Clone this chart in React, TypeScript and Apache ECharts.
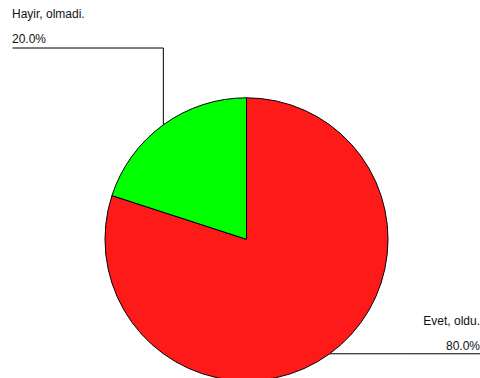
import React, { useEffect, useRef } from "react";
import * as echarts from "echarts";

const categories = ["Evet, oldu.", "Hayir, olmadi."];
const values = [80, 20];
const colors = ["#ff1a1a", "#00ff00"];

const CX = 246.5;
const CY = 239.3;
const R = 141.5;

export default function App() {
  const ref = useRef<HTMLDivElement>(null);
  useEffect(() => {
    if (!ref.current) return;
    const chart = echarts.init(ref.current, null, { renderer: "svg" });
    const total = values.reduce((a, b) => a + b, 0);
    const midPoint = (idx: number) => {
      let before = 0;
      for (let i = 0; i < idx; i++) before += values[i];
      const midFrac = (before + values[idx] / 2) / total;
      const ang = (90 - midFrac * 360) * Math.PI / 180;
      return [CX + R * Math.cos(ang), CY - R * Math.sin(ang)];
    };
    chart.setOption({
      animation: false,
      backgroundColor: "#ffffff",
      series: [
        {
          type: "pie",
          center: [CX, CY],
          radius: R,
          startAngle: 90,
          clockwise: true,
          avoidLabelOverlap: false,
          percentPrecision: 1,
          data: categories.map((c, i) => ({
            name: c,
            value: values[i],
            itemStyle: { color: colors[i] },
          })),
          itemStyle: { borderColor: "#000000", borderWidth: 1 },
          emphasis: { disabled: true },
          label: {
            show: true,
            position: "outside",
            formatter: (p: any) => `${p.name}\n${p.percent.toFixed(1)}%`,
            fontFamily: "Liberation Sans, Arial, sans-serif",
            fontSize: 12,
            lineHeight: 25,
            color: "#111111",
          },
          labelLine: {
            show: true,
            lineStyle: { color: "#000000", width: 1 },
          },
          labelLayout: (params: any) => {
            const idx = params.dataIndex;
            const [px, py] = midPoint(idx);
            if (px < CX) {
              const lineY = 48;
              return {
                x: 12,
                y: 1,
                align: "left",
                verticalAlign: "top",
                labelLinePoints: [
                  [px, py],
                  [px, lineY],
                  [12.5, lineY],
                ],
              };
            }
            return {
              x: 480,
              y: 308.5,
              align: "right",
              verticalAlign: "top",
              labelLinePoints: [
                [px, py],
                [(px + 480) / 2, py],
                [480, py],
              ],
            };
          },
        },
      ],
    });
    return () => chart.dispose();
  }, []);
  return (
    <div
      ref={ref}
      style={{ position: "fixed", left: 0, top: 0, width: 480, height: 378 }}
    />
  );
}
